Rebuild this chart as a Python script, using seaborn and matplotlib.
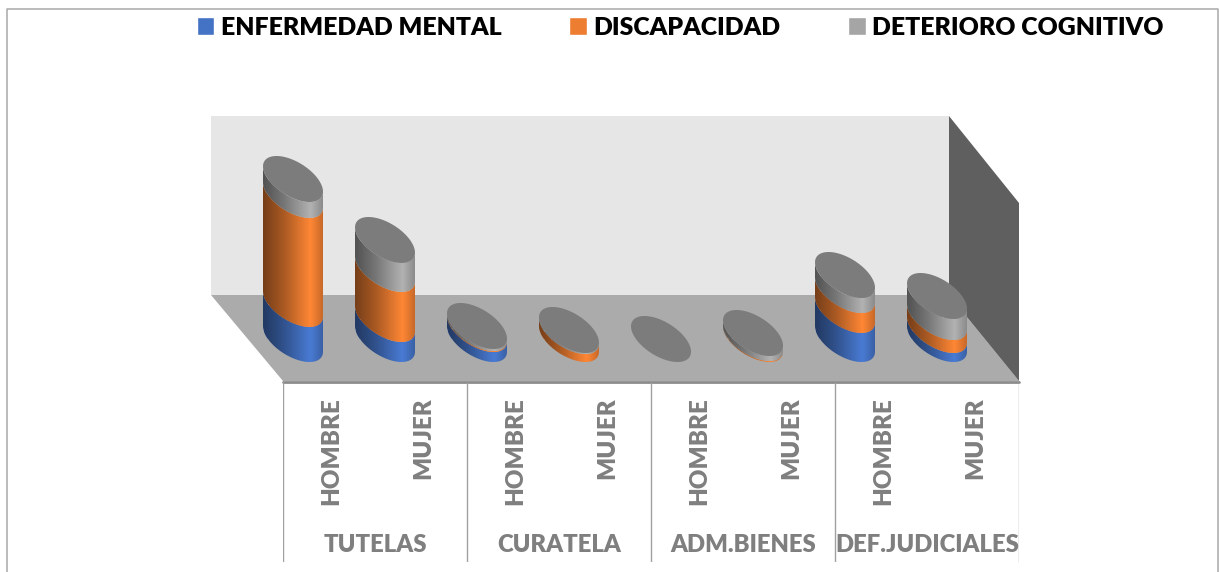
import numpy as np
import pandas as pd
import seaborn as sns
import matplotlib.pyplot as plt
from matplotlib.colors import LinearSegmentedColormap, to_rgb
from matplotlib.patches import Polygon

# values (hidden value axis, arbitrary units)
grupos = ["TUTELAS", "CURATELA", "ADM.BIENES", "DEF.JUDICIALES"]
sexos = ["HOMBRE", "MUJER"]
enfermedad_mental = [35, 20, 10, 0, 0, 0, 29, 9]
discapacidad = [109, 50, 1, 8, 0, 1, 20, 13]
deterioro_cognitivo = [16, 29, 2, 1, 0, 5, 15, 21]
series_names = ["ENFERMEDAD MENTAL", "DISCAPACIDAD", "DETERIORO COGNITIVO"]
series_colors = ["#4472C4", "#ED7D31", "#A5A5A5"]

W, H = 1219, 572
FONT = "Lato"
LABEL_GRAY = "#7f7f7f"
BAR_WIDTH = 0.652
ELLIPSE_B = 23.0
PHI = np.arccos(0.55)


def px_axes(fig, left, top, right, bottom):
    return fig.add_axes([left / W, 1 - bottom / H, (right - left) / W, (bottom - top) / H])


def lower_arc(xc, yc, a):
    t = np.linspace(0, np.pi, 60)
    return np.column_stack([xc + a * np.cos(t), yc - ELLIPSE_B * np.cos(t - PHI)])


def draw_cylinder_segment(ax, patch, color):
    x0, w = patch.get_x(), patch.get_width()
    y0, h = patch.get_y(), patch.get_height()
    if h <= 0:
        patch.set_visible(False)
        return
    xc, a = x0 + w / 2, w / 2
    poly = Polygon(
        np.vstack([lower_arc(xc, y0, a), lower_arc(xc, y0 + h, a)[::-1]]),
        transform=ax.transData,
    )
    r, g, b = to_rgb(color)
    base = np.array([r, g, b])
    cmap = LinearSegmentedColormap.from_list(
        "side",
        [
            (0.0, base * 0.5),
            (0.35, base * 0.72),
            (0.8, np.clip(base * 1.08, 0, 1)),
            (1.0, base * 0.85),
        ],
    )
    im = ax.imshow(
        np.linspace(0, 1, 64).reshape(1, -1),
        extent=[x0, x0 + w, y0 - ELLIPSE_B, y0 + h + ELLIPSE_B],
        cmap=cmap,
        aspect="auto",
        zorder=3,
    )
    im.set_clip_path(poly)
    patch.set_clip_path(poly)


sns.set_theme(style="white")
plt.rcParams["font.family"] = [FONT, "DejaVu Sans"]

fig = plt.figure(figsize=(W / 100, H / 100), dpi=100, facecolor="white")

# walls, floor and frame
ax_bg = fig.add_axes([0, 0, 1, 1])
ax_bg.set_xlim(0, W)
ax_bg.set_ylim(H, 0)
ax_bg.axis("off")
ax_bg.add_patch(Polygon([(211, 116), (949, 116), (949, 295), (211, 295)], color="#e6e6e6", lw=0))
ax_bg.add_patch(Polygon([(211, 295), (949, 295), (1019, 381), (283, 381)], color="#ababab", lw=0))
ax_bg.add_patch(Polygon([(949, 116), (1019, 203), (1019, 381), (949, 295)], color="#5f5f5f", lw=0))
ax_bg.plot([283, 1019], [381.5, 381.5], color="#8c8c8c", lw=2)
ax_bg.plot([6.5, 6.5, 1218, 1218], [572, 8.5, 8.5, 572], color="#a8a8a8", lw=1.1)

# stacked bars, 1 unit is one pixel, zero sits on the centre of the base ellipse
ax = px_axes(fig, 247, 116, 983, 382)
ax.patch.set_alpha(0)

keys = [f"{g} {s}" for g in grupos for s in sexos]
df = pd.DataFrame(
    {
        "grupo": keys,
        series_names[0]: enfermedad_mental,
        series_names[1]: discapacidad,
        series_names[2]: deterioro_cognitivo,
    }
)

bottom = np.zeros(len(df))
for name, color in zip(series_names, series_colors):
    sns.barplot(
        data=df, x="grupo", y=name, order=keys, bottom=bottom, color=color,
        saturation=1, width=BAR_WIDTH, errorbar=None, label=name, legend=False, ax=ax,
    )
    bottom = bottom + df[name].to_numpy()

handles = [c[0] for c in ax.containers]
fig.legend(
    handles, series_names, loc="upper left", bbox_to_anchor=(196.5 / W, 1 - 17 / H), ncol=3,
    frameon=False, handlelength=0.72, handleheight=0.72, handletextpad=0.25,
    columnspacing=2.72, borderpad=0, borderaxespad=0,
    prop={"family": FONT, "weight": "heavy", "size": 17.9},
    labelcolor="black",
)
if ax.get_legend() is not None:
    ax.get_legend().remove()

for container, color in zip(ax.containers, series_colors):
    for patch in container:
        draw_cylinder_segment(ax, patch, color)

# top caps
t = np.linspace(0, 2 * np.pi, 120)
a = BAR_WIDTH / 2
for i, top in enumerate(bottom):
    ax.fill(
        i + a * np.cos(t), top - ELLIPSE_B * np.cos(t - PHI),
        color="#7c7c7c", lw=0, zorder=4,
    )

ax.set_xlim(-0.5, 7.5)
ax.set_ylim(-43, 223)
ax.axis("off")

# two level category axis below the floor
ax_lab = px_axes(fig, 283, 382, 1019, 562)
ax_lab.set_xlim(-0.5, 7.5)
ax_lab.set_ylim(562, 382)
ax_lab.axis("off")
ax_lab.vlines(np.arange(-0.5, 8, 2), 382, 562, color="#a0a0a0", lw=1)
for i, g in enumerate(grupos):
    for j, s in enumerate(sexos):
        ax_lab.text(
            2 * i + j + 0.02, 397, s, rotation=90, ha="center", va="top",
            color=LABEL_GRAY, fontweight="heavy", fontsize=17.4,
        )
    ax_lab.text(
        2 * i + 0.5, 545, g, ha="center", va="center",
        color=LABEL_GRAY, fontweight="heavy", fontsize=17.2,
    )

plt.savefig("out.png", dpi=100)
plt.close()
